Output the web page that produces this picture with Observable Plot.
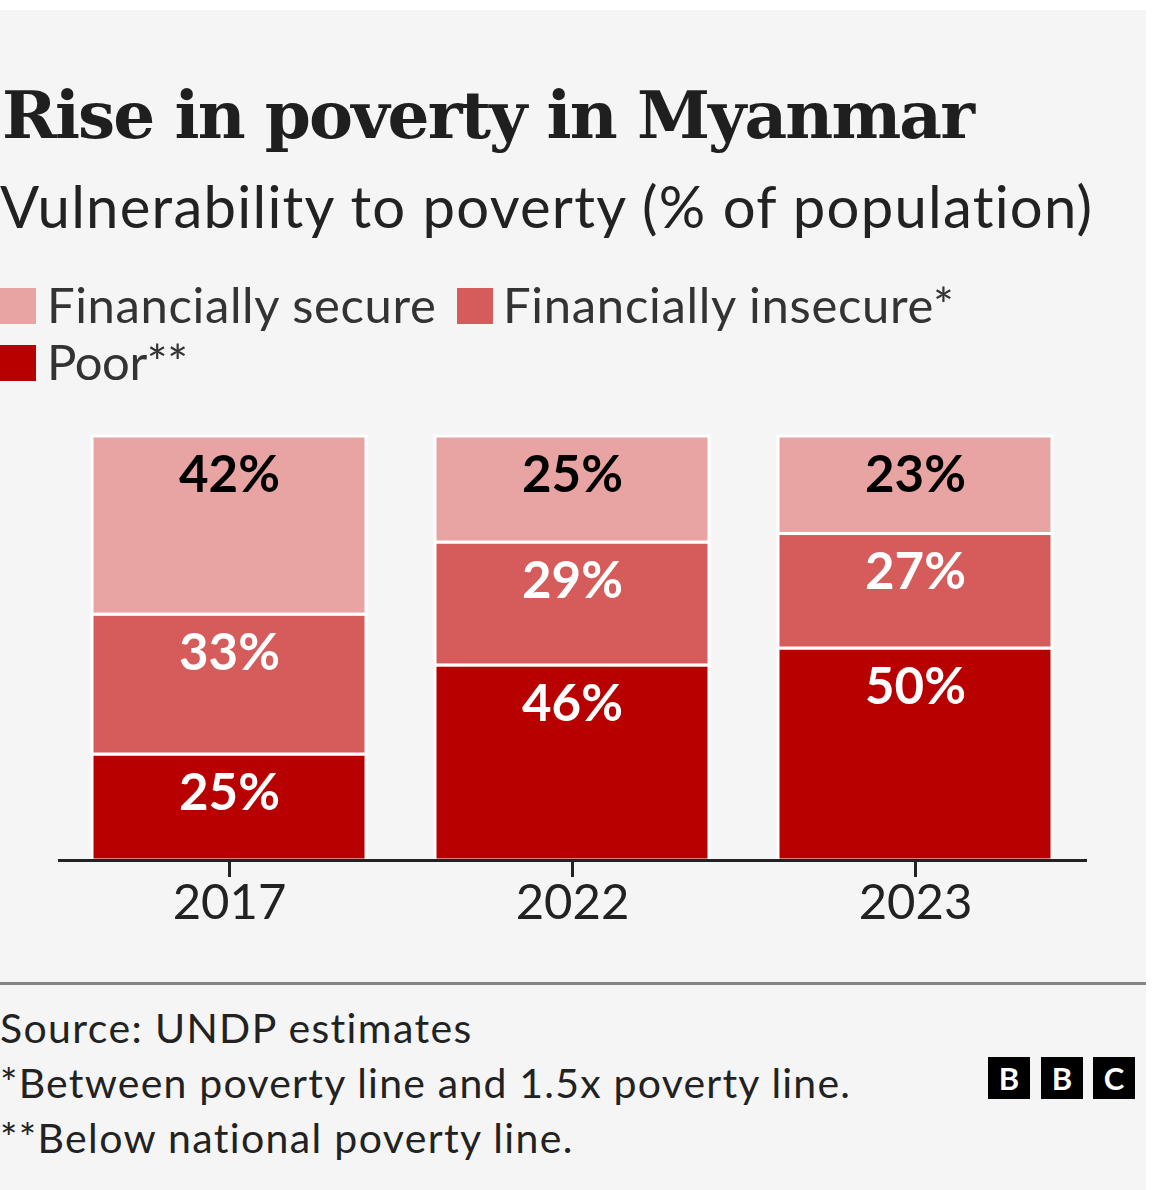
<!DOCTYPE html>
<html><head><meta charset="utf-8">
<script src="https://cdn.jsdelivr.net/npm/d3@7"></script>
<script src="https://cdn.jsdelivr.net/npm/@observablehq/plot@0.6"></script>
<style>
html,body{margin:0;padding:0;background:#fff;width:1153px;height:1190px;overflow:hidden}
#bg{position:absolute;left:0;top:10px;width:1146px;height:1180px;background:#f5f5f5}
.t{position:absolute;white-space:nowrap;margin:0}
.sq{position:absolute}
#chart{position:absolute;left:0;top:400px}
#sep{position:absolute;left:0;top:982px;width:1146px;height:3px;background:#858585}
.bbc{position:absolute;top:1057px;width:42px;height:42px;background:#000;color:#fff;font:700 31px Lato,sans-serif;display:flex;align-items:center;justify-content:center}
</style></head><body>
<div id="bg"></div>
<div id="sep"></div>
<div id="chart"></div>
<div class="bbc" style="left:988px">B</div>
<div class="bbc" style="left:1041px">B</div>
<div class="bbc" style="left:1093px">C</div>
<script>
// ---- data ----
const years = ["2017", "2022", "2023"];
const categories = ["Poor**", "Financially insecure*", "Financially secure"];
const poor = [25, 46, 50];
const insecure = [33, 29, 27];
const secure = [42, 25, 23];
const colors = ["#b80000", "#d65c5c", "#e8a3a3"];

const titleText = "Rise in poverty in Myanmar";
const subtitleText = "Vulnerability to poverty (% of population)";
const footerLines = ["Source: UNDP estimates", "*Between poverty line and 1.5x poverty line.", "**Below national poverty line."];

const data = years.flatMap((yr, i) => [
  {year: yr, cat: categories[0], value: poor[i]},
  {year: yr, cat: categories[1], value: insecure[i]},
  {year: yr, cat: categories[2], value: secure[i]}
]);

// ---- text placement helper ----
const cv = document.createElement("canvas").getContext("2d");
function place(text, o) {
  const fontStr = `${o.weight||400} ${o.size}px ${o.family}`;
  cv.font = fontStr;
  const m = cv.measureText(text);
  const A = m.fontBoundingBoxAscent, D = m.fontBoundingBoxDescent;
  const L = o.size;
  const top = o.baseline - (L - (A + D)) / 2 - A;
  const el = document.createElement("div");
  el.className = "t";
  el.textContent = text;
  el.style.font = fontStr;
  el.style.lineHeight = L + "px";
  el.style.left = o.x + "px";
  el.style.top = top + "px";
  el.style.color = o.color || "#222";
  if (o.width) {
    const n = Math.max(1, text.length - 1);
    el.style.letterSpacing = ((o.width - m.width) / n) + "px";
  }
  document.body.appendChild(el);
}

place(titleText, {x: 2, baseline: 138, size: 66, weight: 700, family: "'DejaVu Serif'", width: 973, color: "#1f1f1f"});
place(subtitleText, {x: 0, baseline: 228, size: 58, family: "Lato", width: 1097, color: "#222"});

// legend
const legendItems = [
  {sq: 0, tx: 47, base: 323, w: 390},
  {sq: 457, tx: 503, base: 323, w: 452},
  {sq: 0, tx: 47, base: 380, w: 141}
];
const legendOrder = [2, 1, 0];
legendOrder.forEach((ci, k) => {
  const it = legendItems[k];
  const s = document.createElement("div");
  s.className = "sq";
  s.style.cssText = `left:${it.sq}px;top:${it.base - 35}px;width:36px;height:36px;background:${colors[ci]}`;
  document.body.appendChild(s);
  place(categories[ci], {x: it.tx, baseline: it.base, size: 49, family: "Lato", width: it.w, color: "#333"});
});

// footer
const footerW = [473, 852, 575];
footerLines.forEach((t, i) => place(t, {x: 0, baseline: 1043 + i * 55, size: 41, family: "Lato", width: footerW[i], color: "#222"}));

// ---- chart ----
const chart = Plot.plot({
  width: 1153, height: 560,
  marginTop: 36, marginBottom: 100, marginLeft: 58, marginRight: 66,
  style: {background: "transparent", fontFamily: "Lato", color: "#222", overflow: "visible"},
  x: {domain: years, paddingInner: 0.2, paddingOuter: 0.1, axis: null},
  y: {domain: [0, 100], axis: null},
  color: {domain: categories, range: colors},
  marks: [
    Plot.barY(data, {x: "year", y: "value", fill: "cat", stroke: "white", strokeWidth: 3}),
    Plot.text(data, Plot.stackY2({x: "year", y: "value", z: "cat",
      text: d => d.cat === categories[2] ? null : d.value + "%",
      dy: 39, fill: "white", fontSize: 51, fontWeight: 700})),
    Plot.text(data, Plot.stackY2({x: "year", y: "value", z: "cat",
      text: d => d.cat === categories[2] ? d.value + "%" : null,
      dy: 39, fill: "black", fontSize: 51, fontWeight: 700})),
    Plot.ruleY([0], {stroke: "#222", strokeWidth: 3}),
    Plot.axisX({tickSize: 17, tickPadding: 7, fontSize: 49, strokeWidth: 3, stroke: "#222", label: null})
  ]
});
document.getElementById("chart").appendChild(chart);
</script>
</body></html>
